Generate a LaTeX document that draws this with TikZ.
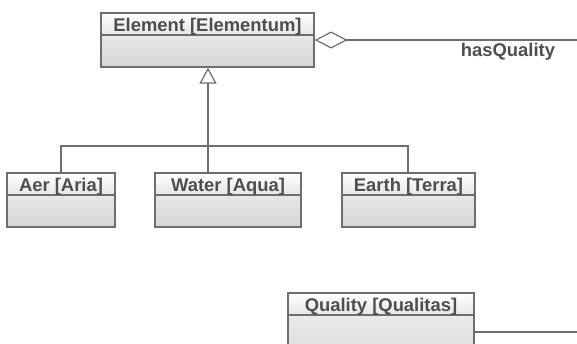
\documentclass[tikz,border=0pt]{standalone}
\usepackage{fontspec}
\setmainfont{Liberation Sans}
\usetikzlibrary{arrows.meta}
\definecolor{umlline}{HTML}{6E6E6E}
\definecolor{umltext}{HTML}{4E4E4E}
\definecolor{bodytop}{HTML}{F2F2F2}
\definecolor{bodybot}{HTML}{D6D6D6}
\definecolor{headtop}{HTML}{FFFFFF}
\definecolor{headbot}{HTML}{E6E6E6}
\tikzset{
  classbody/.style={draw=umlline, line width=1.2pt, rectangle, inner sep=0pt,
    top color=bodytop, bottom color=bodybot},
  classhead/.style={draw=umlline, line width=1.2pt, rectangle, inner sep=0pt,
    minimum height=22pt, anchor=north, top color=headtop, bottom color=headbot,
    text=umltext, text height=15pt, text depth=0pt,
    font=\fontsize{18.4}{20}\selectfont\bfseries},
  conn/.style={draw=umlline, line width=1.2pt},
  lbl/.style={text=umltext, font=\fontsize{18.4}{20}\selectfont\bfseries, inner sep=0pt}
}
\begin{document}
\begin{tikzpicture}[x=1pt, y=-1pt]
\useasboundingbox (0,0) rectangle (577,343);

% class Element
\node[classbody, minimum width=213pt, minimum height=54pt] (elem) at (207.5,40) {};
\node[classhead, minimum width=213pt] (elemH) at (elem.north) {Element [Elementum]};

% subclasses
\node[classbody, minimum width=108pt, minimum height=54pt] (aer) at (61,200) {};
\node[classhead, minimum width=108pt] (aerH) at (aer.north) {Aer [Aria]};

\node[classbody, minimum width=146pt, minimum height=54pt] (water) at (228,200) {};
\node[classhead, minimum width=146pt] (waterH) at (water.north) {Water [Aqua]};

\node[classbody, minimum width=133pt, minimum height=54pt] (earth) at (408.5,200) {};
\node[classhead, minimum width=133pt] (earthH) at (earth.north) {Earth [Terra]};

% class Quality
\node[classbody, minimum width=186pt, minimum height=78pt] (qual) at (381,332) {};
\node[classhead, minimum width=186pt] (qualH) at (qual.north) {Quality [Qualitas]};

% generalization
\coordinate (junc) at (208,146);
\draw[conn, -{Triangle[open, length=16pt, width=17pt]}] (junc) -- (junc |- elem.south);
\draw[conn] (aer.north) |- (junc);
\draw[conn] (junc) -| (408,173);
\draw[conn] (junc) -- (junc |- water.north);

% aggregation hasQuality
\coordinate (aggEnd) at (577,40);
\draw[conn, {Diamond[open, length=33pt, width=17pt]}-] (elem.east) -- (aggEnd);
\node[lbl] (aggLbl) at (508,52) {hasQuality};

% association leaving Quality
\coordinate (qEnd) at (577,332);
\draw[conn] (qual.east) -- (qEnd);
\end{tikzpicture}
\end{document}
